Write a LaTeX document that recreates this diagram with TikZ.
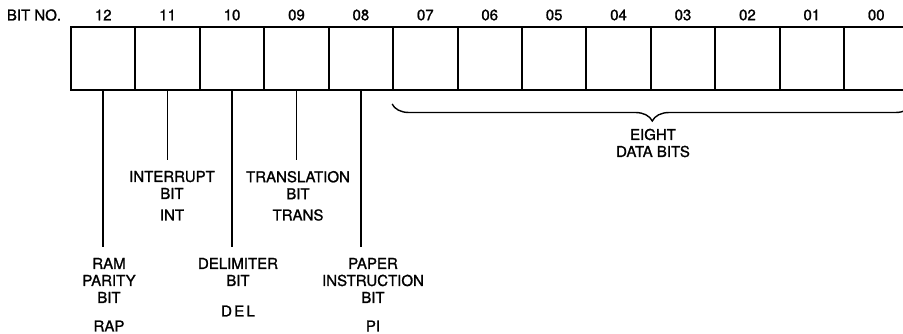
\documentclass[tikz,border=0pt]{standalone}
\usepackage{fontspec}
\setmainfont{TeX Gyre Heros}[FakeBold=1.2]
\usetikzlibrary{decorations.pathreplacing}

\begin{document}
\begin{tikzpicture}[x=1pt, y=-1pt, line width=2pt,
    font=\fontsize{15}{17}\selectfont,
    cell/.style={draw, minimum width=64.42pt, minimum height=63pt, inner sep=0pt},
    tag/.style={align=center, inner xsep=0pt, inner ysep=10pt, anchor=north},
    abbr/.style={inner sep=0pt}]
    \clip (0,0) rectangle (903,334);
    % register cells, bit 12 on the left
    \node (bitno) at (34,15) {BIT NO.};
    \foreach \n [count=\i from 0] in {12,11,10,09,08,07,06,05,04,03,02,01,00} {
        \node[cell] (c\n) at ({103.21+64.42*\i}, 58.5) {};
        \node (n\n) at ({103.21+64.42*\i}, 15) {\n};
    }
    % control bit names
    \node[tag] (ram) at (109,247) {RAM\\PARITY\\BIT};
    \node[abbr] (rap) at (109,326) {RAP};
    \node[tag] (intr) at (172,160) {INTERRUPT\\BIT};
    \node[abbr] (int) at (172,215) {INT};
    \node[tag] (delim) at (238,247) {DELIMITER\\BIT};
    \node[abbr] (del) at (238,311) {\addfontfeature{LetterSpace=15}DEL};
    \node[tag] (trans) at (298,160) {TRANSLATION\\BIT};
    \node[abbr] (trns) at (298,215) {TRANS};
    \node[tag] (paper) at (373,247) {PAPER\\INSTRUCTION\\BIT};
    \node[abbr] (pi) at (373,326) {PI};
    \foreach \b/\t in {12/ram, 11/intr, 10/delim, 09/trans, 08/paper}
        \draw[line width=1.6pt] (c\b.south) -- (c\b.south |- \t.north);
    % data bits
    \draw[line width=1.4pt, decorate, decoration={brace, mirror, amplitude=17pt}]
        ([yshift=-13pt]c07.south west) -- ([yshift=-13pt, xshift=3pt]c00.south east);
    \node[align=center] (data) at (653,143) {EIGHT\\DATA BITS};
\end{tikzpicture}
\end{document}
